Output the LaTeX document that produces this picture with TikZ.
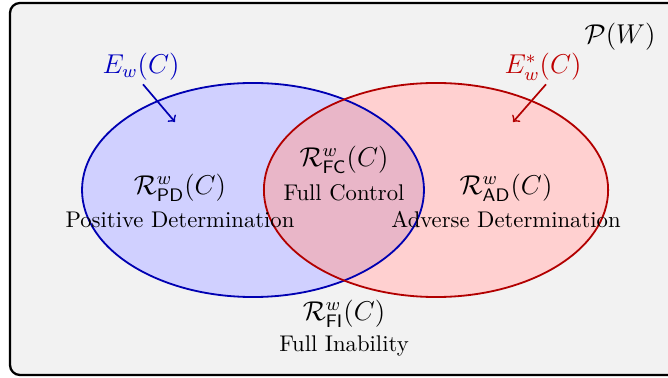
\documentclass[tikz,border=0pt]{standalone}
\usepackage{amsmath}
\begin{document}
\begin{tikzpicture}[x=0.441pt,y=-0.441pt,
  bluefill/.style={fill={rgb,255:red,208;green,208;blue,255}},
  redfill/.style={fill={rgb,255:red,255;green,208;blue,208}},
  interfill/.style={fill={rgb,255:red,233;green,182;blue,200}},
  blueline/.style={draw=blue!70!black, line width=0.8pt},
  redline/.style={draw=red!70!black, line width=0.8pt},
  mathlbl/.style={font=\large, inner sep=1pt},
  desclbl/.style={font=\normalsize, inner sep=1pt},
  pointer/.style={->, line width=0.75pt}]
\useasboundingbox (0,0) rectangle (668,378);
% universe
\draw[line width=1pt, fill=gray!10, rounded corners=4.4pt] (10,3) rectangle (700,375);
% fills
\fill[bluefill] (253,190) ellipse [x radius=75.4pt, y radius=47.2pt];
\fill[redfill] (436,190) ellipse [x radius=75.9pt, y radius=47.2pt];
\begin{scope}
  \clip (253,190) ellipse [x radius=75.4pt, y radius=47.2pt];
  \fill[interfill] (436,190) ellipse [x radius=75.9pt, y radius=47.2pt];
\end{scope}
% outlines
\draw[blueline] (253,190) ellipse [x radius=75.4pt, y radius=47.2pt];
\draw[redline] (436,190) ellipse [x radius=75.9pt, y radius=47.2pt];
% labels
\node[mathlbl] (pw) at (620,37) {$\mathcal{P}(W)$};
\node[mathlbl] (pd) at (180,188) {$\mathcal{R}^{w}_{\mathsf{PD}}(C)$};
\node[desclbl] (pdt) at (180,220) {Positive Determination};
\node[mathlbl] (fc) at (344,160) {$\mathcal{R}^{w}_{\mathsf{FC}}(C)$};
\node[desclbl] (fct) at (344,193) {Full Control};
\node[mathlbl] (ad) at (506,188) {$\mathcal{R}^{w}_{\mathsf{AD}}(C)$};
\node[desclbl] (adt) at (506,220) {Adverse Determination};
\node[mathlbl] (fi) at (344,314) {$\mathcal{R}^{w}_{\mathsf{FI}}(C)$};
\node[desclbl] (fit) at (344,346) {Full Inability};
\node[mathlbl, text=blue!75!black] (ew) at (141,67) {$E_w(C)$};
\node[mathlbl, text=red!75!black] (esw) at (543,67) {$E^{*}_w(C)$};
\coordinate (ewend) at (175,122);
\coordinate (eswend) at (513,122);
\draw[pointer, blue!70!black] (ew.south) ++(2,1) -- (ewend);
\draw[pointer, red!70!black] (esw.south) ++(3,1) -- (eswend);
\end{tikzpicture}
\end{document}
